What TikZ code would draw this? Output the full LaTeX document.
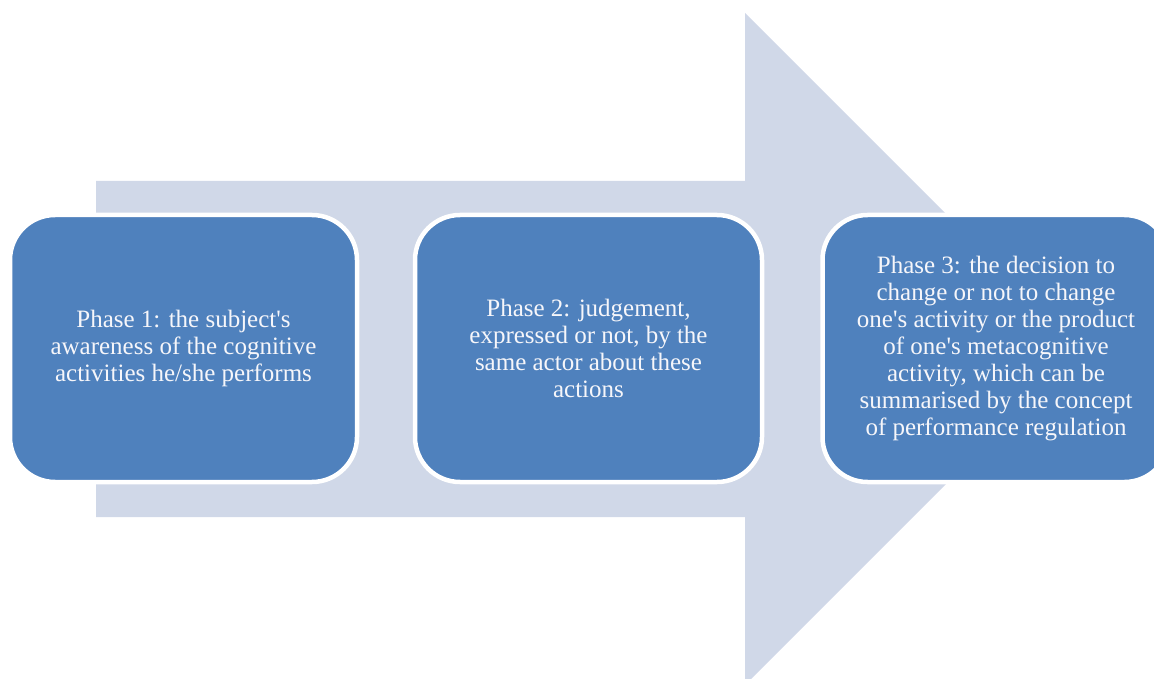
\documentclass[tikz,border=0pt]{standalone}
\usepackage{fontspec}
\setmainfont{Liberation Serif}
\definecolor{phaseblue}{RGB}{79,129,189}
\definecolor{arrowfill}{RGB}{208,216,232}
\definecolor{textwhite}{RGB}{246,246,250}
\newcommand{\apos}{\textquotesingle}
\begin{document}
\begin{tikzpicture}[x=1pt,y=-1pt,
  phase/.style={draw=white, line width=4.5pt, fill=phaseblue, rounded corners=45pt,
    minimum width=347pt, minimum height=267pt, inner sep=0pt, outer sep=0pt,
    text=textwhite, align=center,
    font=\fontsize{25pt}{27pt}\selectfont}]
\useasboundingbox (0,0) rectangle (1154,679);
\clip (0,0) rectangle (1154,679);
\fill[arrowfill] (96,181) -- (745,181) -- (745,13) -- (1081,349) -- (745,685)
  -- (745,517) -- (96,517) -- cycle;
\node[phase] (p1) at (183.5,348.5) {Phase 1: the subject\apos s\\awareness of the cognitive\\activities he/she performs};
\node[phase] (p2) at (588.5,348.5) {Phase 2: judgement,\\expressed or not, by the\\same actor about these\\actions};
\node[phase] (p3) at (996,348.5) {Phase 3: the decision to\\change or not to change\\one\apos s activity or the product\\of one\apos s metacognitive\\activity, which can be\\summarised by the concept\\of performance regulation};
\end{tikzpicture}
\end{document}
